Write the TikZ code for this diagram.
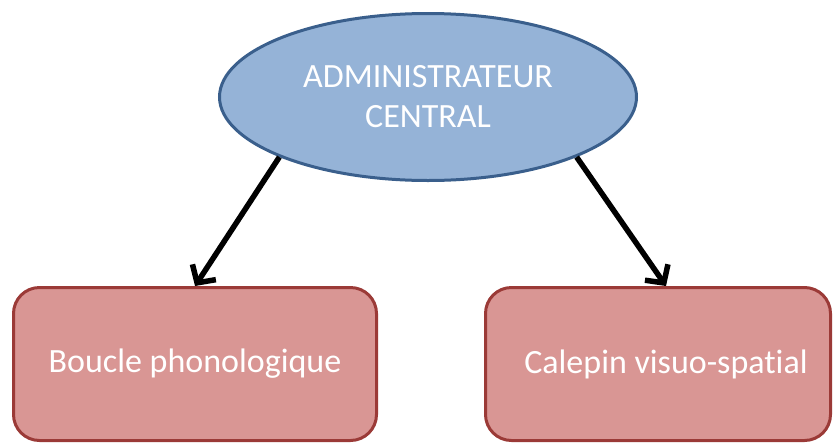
\documentclass[tikz,border=0pt]{standalone}
\usepackage{fontspec}
\setmainfont{Carlito}[Ligatures=NoCommon]
\usetikzlibrary{arrows.meta,shapes.geometric}
\definecolor{adminfill}{HTML}{95B3D7}
\definecolor{admindraw}{HTML}{3A5F8C}
\definecolor{boxfill}{HTML}{D99694}
\definecolor{boxdraw}{HTML}{9B3A37}

\begin{document}
\begin{tikzpicture}[x=1pt,y=-1pt,>={Straight Barb[length=13pt,width=28pt]},
                    font=\fontsize{34}{40}\selectfont]
  \tikzstyle{admin}=[ellipse,fill=adminfill,draw=admindraw,line width=3pt,
                     text=white,inner sep=0pt,minimum width=417pt,
                     minimum height=167pt,align=center]
  \tikzstyle{memory}=[rectangle,rounded corners=26pt,fill=boxfill,draw=boxdraw,
                      line width=3pt,text=white,inner sep=0pt,
                      minimum height=153pt]
  \tikzstyle{link}=[->,line width=5.5pt,black]

  \useasboundingbox (0,0) rectangle (838,445);

  \node[admin]                      (A) at (428,97)  {ADMINISTRATEUR\\CENTRAL};
  \node[memory,minimum width=363pt] (B) at (195,364) {Boucle phonologique};
  \node[memory,minimum width=345pt] (C) at (658,364) {\hspace{16pt}Calepin visuo-spatial};

  \draw[link] (A.-158) -- (B.north);
  \draw[link] (A.-22)  -- ([xshift=8pt]C.north);
\end{tikzpicture}
\end{document}
